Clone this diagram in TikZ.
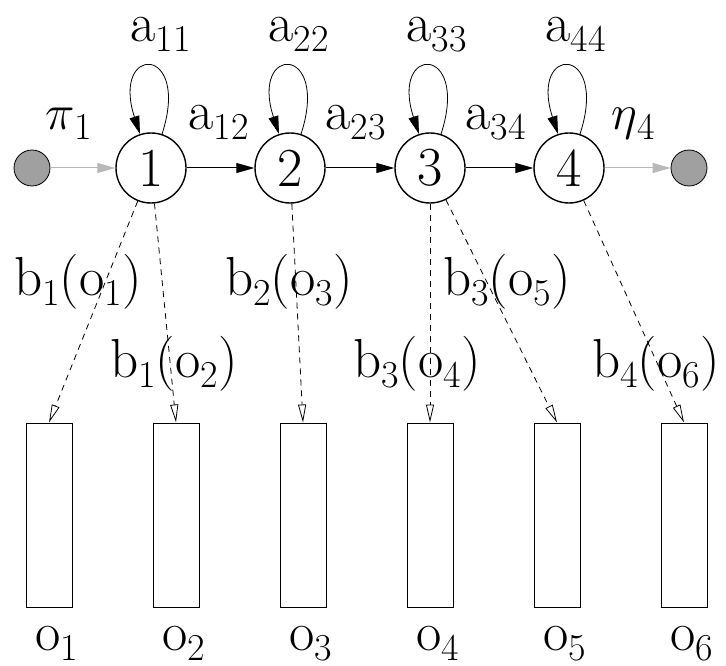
\documentclass[tikz,border=0pt]{standalone}
\usetikzlibrary{arrows.meta}
\definecolor{dotgray}{RGB}{160,160,160}
\definecolor{linegray}{RGB}{184,184,184}
\newcommand\sub[1]{\raisebox{-5pt}{\fontsize{19}{19}\selectfont #1}}

\begin{document}
\begin{tikzpicture}[
    x=0.5pt, y=0.5pt,
    font=\fontsize{27.5}{29}\selectfont,
    state/.style={circle, draw, line width=0.7pt, minimum size=35pt, inner sep=0pt},
    endpt/.style={circle, draw, fill=dotgray, line width=0.4pt, minimum size=18pt, inner sep=0pt},
    obsbox/.style={rectangle, draw, line width=0.5pt, minimum width=23pt, minimum height=92pt, inner sep=0pt},
    lab/.style={anchor=base west, inner sep=0pt},
    trans/.style={-{Triangle[length=9pt,width=5pt]}, line width=0.5pt},
    emit/.style={-{Triangle[open,length=9pt,width=4pt]}, dash pattern=on 3pt off 2.5pt, line width=0.4pt},
]
    \useasboundingbox (0,0) rectangle (726,665);
    % states
    \node[endpt] (start) at (32,497) {};
    \node[state] (s1) at (151,497) {1};
    \node[state] (s2) at (290,497) {2};
    \node[state] (s3) at (430,497) {3};
    \node[state] (s4) at (569,497) {4};
    \node[endpt] (stop) at (689,497) {};
    % observations
    \foreach \i/\x in {1/49,2/176,3/303,4/430,5/557,6/684} {
        \node[obsbox] (o\i) at (\x,150) {};
        \node[lab] (ol\i) at (\x-14,15) {o\sub{\i}};
    }
    % transitions
    \draw[trans, linegray] (start) -- (s1);
    \draw[trans] (s1) -- (s2);
    \draw[trans] (s2) -- (s3);
    \draw[trans] (s3) -- (s4);
    \draw[trans, linegray] (s4) -- (stop);
    \foreach \i in {1,...,4} {
        \draw[trans, line width=0.4pt] (s\i) to[out=72, in=108, looseness=11] (s\i);
    }
    % emissions
    \draw[emit] (s1) -- (o1.north);
    \draw[emit] (s1) -- (o2.north);
    \draw[emit] (s2) -- (o3.north);
    \draw[emit] (s3) -- (o4.north);
    \draw[emit] (s3) -- (o5.north);
    \draw[emit] (s4) -- (o6.north);
    % labels
    \node[lab] (a11) at (130,623) {a\sub{11}};
    \node[lab] (a22) at (268,623) {a\sub{22}};
    \node[lab] (a33) at (406,623) {a\sub{33}};
    \node[lab] (a44) at (545,623) {a\sub{44}};
    \node[lab] (pi1) at (45,535) {$\pi$\sub{1}};
    \node[lab] (a12) at (188,535) {a\sub{12}};
    \node[lab] (a23) at (325,535) {a\sub{23}};
    \node[lab] (a34) at (465,535) {a\sub{34}};
    \node[lab] (eta4) at (611,535) {$\eta$\sub{4}};
    \node[lab] (b1o1) at (14,370) {b\sub{1}(o\sub{1})};
    \node[lab] (b2o3) at (225,370) {b\sub{2}(o\sub{3})};
    \node[lab] (b3o5) at (443,370) {b\sub{3}(o\sub{5})};
    \node[lab] (b1o2) at (110,288) {b\sub{1}(o\sub{2})};
    \node[lab] (b3o4) at (353,288) {b\sub{3}(o\sub{4})};
    \node[lab] (b4o6) at (592,288) {b\sub{4}(o\sub{6})};
\end{tikzpicture}
\end{document}
